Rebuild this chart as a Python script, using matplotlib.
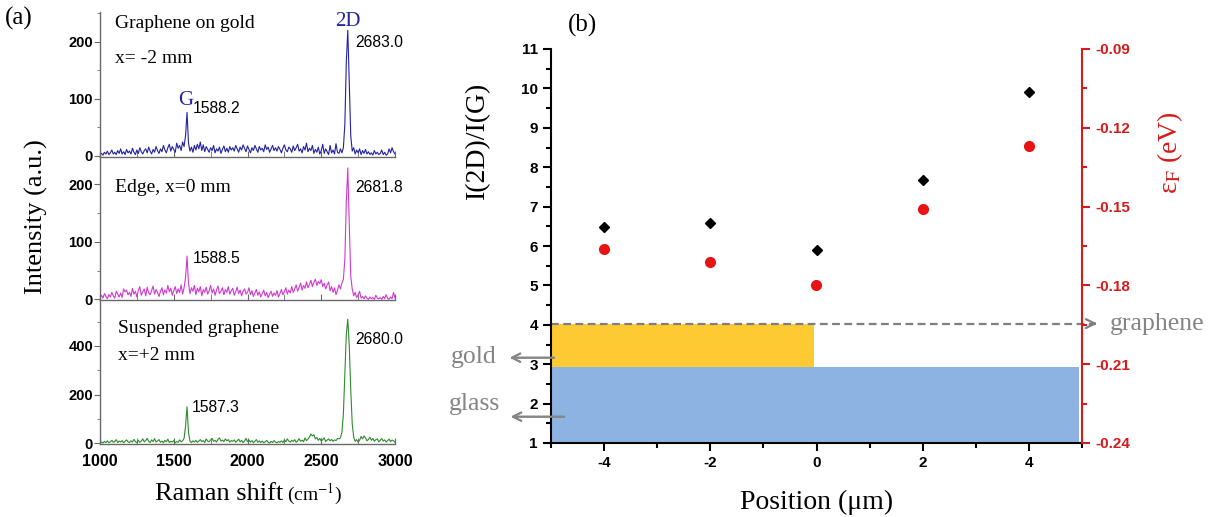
import matplotlib
matplotlib.use('Agg')
import matplotlib.pyplot as plt
import matplotlib.ticker as mticker
from matplotlib.patches import Rectangle
import numpy as np

plt.rcParams['font.family'] = ['Liberation Sans', 'DejaVu Sans']
plt.rcParams['axes.unicode_minus'] = False
plt.rcParams['mathtext.fontset'] = 'stix'

W, H = 1231, 517
SERIF = ['Liberation Serif', 'DejaVu Serif']

# ---- panel (a): Raman spectra, 1000..3000 cm-1 every 10 cm-1 ----
raman_start, raman_stop, raman_step = 1000, 3000, 10

gold_spec = [
    2, 4, 1, 6, 3, 8, 2, 5, 10, 3,
    6, 2, 9, 4, 12, 3, 7, 2, 11, 5,
    8, 3, 13, 6, 2, 10, 4, 14, 7, 3,
    9, 12, 5, 15, 8, 3, 11, 6, 16, 9,
    4, 12, 7, 18, 10, 5, 14, 20, 8, 16,
    11, 6, 22, 13, 18, 9, 24, 16, 35, 76,
    22, 8, 15, 6, 18, 10, 20, 12, 24, 9,
    19, 7, 16, 11, 6, 14, 9, 18, 5, 12,
    8, 15, 4, 11, 17, 7, 13, 6, 16, 10,
    14, 8, 18, 12, 6, 15, 10, 19, 13, 7,
    17, 11, 5, 14, 9, 18, 12, 6, 16, 10,
    13, 7, 19, 11, 15, 6, 12, 18, 9, 14,
    8, 16, 11, 5, 13, 19, 10, 7, 15, 12,
    6, 17, 9, 14, 20, 8, 12, 5, 16, 10,
    22, 7, 13, 9, 18, 4, 11, 6, 15, 3,
    9, 20, 4, 12, 7, 2, 18, 5, 10, 3,
    21, 6, 4, 12, 5, 14, 55, 165, 220, 125,
    35, 8, 14, 3, 10, 5, 12, 2, 9, 4,
    11, 3, 7, 2, 5, 1, 9, 3, 6, 2,
    4, 10, 2, 6, 1, 3, 12, 5, 14, 7,
    3,
]

edge_spec = [
    3, 7, 2, 10, 5, 1, 8, 4, 12, 6,
    2, 14, 9, 4, 11, 3, 18, 13, 16, 8,
    12, 5, 19, 9, 14, 4, 16, 22, 7, 13,
    18, 6, 21, 11, 8, 15, 23, 9, 17, 12,
    5, 14, 20, 8, 16, 11, 24, 13, 19, 7,
    15, 22, 10, 18, 12, 25, 9, 20, 38, 75,
    28, 10, 20, 14, 24, 8, 19, 13, 22, 6,
    17, 12, 21, 9, 15, 24, 11, 18, 7, 16,
    23, 10, 14, 20, 8, 17, 12, 22, 9, 15,
    19, 7, 13, 21, 10, 16, 6, 14, 18, 9,
    12, 20, 8, 15, 5, 11, 17, 7, 13, 4,
    10, 16, 6, 12, 3, 9, 14, 5, 11, 7,
    15, 4, 10, 17, 8, 13, 20, 9, 16, 11,
    22, 12, 18, 25, 14, 21, 28, 16, 24, 19,
    30, 20, 26, 33, 22, 29, 35, 24, 31, 27,
    34, 22, 28, 18, 25, 30, 15, 22, 12, 20,
    8, 16, 25, 18, 28, 35, 70, 170, 228, 130,
    40, 18, 6, 12, 3, 8, 14, 2, 5, 1,
    6, 2, 0, 4, 1, 3, 0, 7, 2, 1,
    3, 0, 5, 1, 8, 2, 0, 4, 1, 12,
    2,
]

susp_spec = [
    2, 5, 1, 8, 3, 10, 2, 6, 12, 4,
    7, 15, 3, 9, 5, 11, 2, 8, 14, 6,
    3, 10, 5, 16, 7, 2, 12, 4, 9, 18,
    6, 11, 20, 8, 3, 14, 7, 19, 5, 10,
    15, 4, 9, 2, 12, 6, 17, 3, 8, 5,
    11, 2, 7, 4, 14, 6, 10, 20, 70, 150,
    45, 8, 3, 10, 5, 12, 4, 9, 15, 7,
    11, 3, 18, 9, 6, 14, 20, 8, 12, 5,
    16, 22, 9, 13, 7, 18, 10, 15, 5, 11,
    8, 14, 4, 10, 17, 6, 12, 3, 9, 20,
    7, 13, 5, 11, 2, 8, 15, 4, 10, 3,
    9, 2, 6, 12, 4, 1, 8, 3, 11, 5,
    2, 7, 4, 10, 3, 14, 6, 18, 9, 5,
    12, 7, 15, 4, 10, 19, 8, 13, 6, 22,
    11, 17, 25, 38, 30, 35, 18, 24, 12, 20,
    9, 15, 22, 7, 13, 18, 10, 16, 8, 14,
    11, 20, 18, 22, 45, 120, 290, 450, 510, 400,
    220, 80, 25, 8, 15, 5, 12, 28, 18, 30,
    22, 10, 16, 25, 12, 20, 8, 15, 18, 6,
    12, 20, 9, 14, 5, 11, 17, 7, 13, 10,
    4,
]

# ---- panel (b): ratio and Fermi level vs position ----
positions = [-4, -2, 0, 2, 4]
ratio_2d_g = [6.49, 6.59, 5.91, 7.67, 9.90]
fermi_level = [-0.166, -0.171, -0.180, -0.151, -0.127]
gold_layer = (-5, -0.05, 2.93, 4.03)     # x0, x1, y0, y1
glass_layer = (-5, 4.95, 1.0, 2.93)
graphene_level = 4.03


def fx(x):
    return x / W


def fy(y):
    return 1 - y / H


def bold_ticks(ax, size, color='black'):
    ax.tick_params(labelsize=size)
    for lab in ax.get_xticklabels() + ax.get_yticklabels():
        lab.set_fontweight('bold')
        lab.set_color(color)


fig = plt.figure(figsize=(W / 100, H / 100), dpi=100)
shift = np.arange(raman_start, raman_stop + 1, raman_step)

panel_a = [
    (fig.add_axes([fx(100), fy(157), 295 / W, 145 / H]), gold_spec, '#2222a6', (-2.3, 252), 100),
    (fig.add_axes([fx(100), fy(300), 295 / W, 143 / H]), edge_spec, '#d13ad1', (-1.2, 247), 100),
    (fig.add_axes([fx(100), fy(444), 295 / W, 144 / H]), susp_spec, '#2e8b2e', (-3, 589), 200),
]
for i, (ax, spec, col, ylim, step) in enumerate(panel_a):
    ax.plot(shift, spec, color=col, lw=0.8)
    ax.set_xlim(1000, 3000)
    ax.set_ylim(*ylim)
    ax.set_facecolor('none')
    for s in ('top', 'right'):
        ax.spines[s].set_visible(False)
    for s in ('left', 'bottom'):
        ax.spines[s].set_color('#6a6a6a')
        ax.spines[s].set_linewidth(1.0)
    ax.xaxis.set_major_locator(mticker.MultipleLocator(500))
    ax.xaxis.set_minor_locator(mticker.MultipleLocator(250))
    ax.yaxis.set_major_locator(mticker.MultipleLocator(step))
    ax.yaxis.set_minor_locator(mticker.MultipleLocator(step / 2))
    ax.set_yticks([0, step, 2 * step])
    ax.tick_params(axis='x', which='both', direction='in', length=4, color='#6a6a6a', pad=7)
    ax.tick_params(axis='y', which='major', direction='out', length=4, color='#6a6a6a', pad=1)
    ax.tick_params(axis='y', which='minor', direction='out', length=2.5, color='#6a6a6a')
    if i < 2:
        ax.tick_params(axis='x', labelbottom=False)
    bold_ticks(ax, 10.5)
    for lab in ax.get_xticklabels():
        lab.set_fontsize(11.5)

txt = dict(va='baseline', ha='left')
fig.text(fx(5), fy(25), '(a)', family=SERIF, size=18, **txt)
fig.text(fx(115), fy(28), 'Graphene on gold', family=SERIF, size=14, **txt)
fig.text(fx(115), fy(63), 'x= -2 mm', family=SERIF, size=14, **txt)
fig.text(fx(178), fy(105), 'G', family=SERIF, size=15, color='#2222a6', **txt)
fig.text(fx(193), fy(113), '1588.2', size=11.3, **txt)
fig.text(fx(335), fy(26), '2D', family=SERIF, size=15, color='#2222a6', **txt)
fig.text(fx(355), fy(47), '2683.0', size=11.3, **txt)
fig.text(fx(115), fy(192), 'Edge, x=0 mm', family=SERIF, size=14, **txt)
fig.text(fx(193), fy(263), '1588.5', size=11.3, **txt)
fig.text(fx(355), fy(192), '2681.8', size=11.3, **txt)
fig.text(fx(118), fy(333), 'Suspended graphene', family=SERIF, size=14, **txt)
fig.text(fx(118), fy(360), 'x=+2 mm', family=SERIF, size=14, **txt)
fig.text(fx(192), fy(412), '1587.3', size=11.3, **txt)
fig.text(fx(355), fy(344), '2680.0', size=11.3, **txt)
fig.text(fx(155), fy(500), 'Raman shift', family=SERIF, size=19, **txt)
fig.text(fx(287), fy(500), '(cm$^{-1}$)', family=SERIF, size=14, **txt)
fig.text(fx(36), fy(217), 'Intensity (a.u.)', family=SERIF, size=19,
         rotation=90, ha='center', va='center')

# ---- panel (b) ----
ax = fig.add_axes([fx(551), fy(443), 531 / W, 394 / H])
ax.add_patch(Rectangle((glass_layer[0], glass_layer[2]), glass_layer[1] - glass_layer[0],
                       glass_layer[3] - glass_layer[2], color='#8db3e2', lw=0, zorder=1))
ax.add_patch(Rectangle((gold_layer[0], gold_layer[2]), gold_layer[1] - gold_layer[0],
                       gold_layer[3] - gold_layer[2], color='#fdca33', lw=0, zorder=1))
ax.plot([-5, 5.25], [graphene_level, graphene_level], ls='--', dashes=(3.5, 2),
        color='#7f7f7f', lw=1.6, clip_on=False, zorder=2)
ax.annotate('', xy=(5.34, graphene_level), xytext=(5.15, graphene_level),
            arrowprops=dict(arrowstyle='->', color='#7f7f7f', lw=1.6, mutation_scale=16),
            annotation_clip=False)
ax.plot(positions, ratio_2d_g, 'D', color='black', ms=5.5, zorder=3)
ax.set_xlim(-5, 5)
ax.set_ylim(1, 11)
ax.set_xticks(positions)
ax.xaxis.set_minor_locator(mticker.MultipleLocator(1))
ax.set_yticks(range(1, 12))
ax.yaxis.set_minor_locator(mticker.MultipleLocator(0.5))
ax.spines['top'].set_visible(False)
ax.spines['right'].set_visible(False)
for s in ('left', 'bottom'):
    ax.spines[s].set_linewidth(1.5)
ax.tick_params(which='major', direction='out', length=6, width=1.5)
ax.tick_params(which='minor', direction='out', length=3.5, width=1.5)
bold_ticks(ax, 11)
ax.set_xlabel('Position (\u03bcm)', family=SERIF, size=20, labelpad=14)

red = '#d41c1c'
axr = ax.twinx()
axr.plot(positions, fermi_level, 'o', color='#e81414', ms=7, zorder=3)
axr.set_ylim(-0.24, -0.09)
axr.yaxis.set_major_locator(mticker.MultipleLocator(0.03))
axr.yaxis.set_minor_locator(mticker.MultipleLocator(0.015))
axr.yaxis.set_major_formatter(mticker.FormatStrFormatter('%.2f'))
for s in ('top', 'left', 'bottom'):
    axr.spines[s].set_visible(False)
axr.spines['right'].set_color(red)
axr.spines['right'].set_linewidth(1.5)
axr.tick_params(which='major', direction='out', length=6, width=1.5, color=red)
axr.tick_params(which='minor', direction='out', length=3.5, width=1.5, color=red)
bold_ticks(axr, 11, red)

fig.text(fx(568), fy(32), '(b)', family=SERIF, size=18, **txt)
fig.text(fx(478), fy(140), 'I(2D)/I(G)', family=SERIF, size=20,
         rotation=90, ha='center', va='center')
fig.text(fx(1170), fy(153), '\u03b5$_\\mathrm{F}$ (eV)', family=SERIF, size=20,
         color=red, rotation=90, ha='center', va='center')

gray = '#858585'
fig.text(fx(497), fy(363), 'gold', family=SERIF, size=18.5, color=gray, ha='right', va='baseline')
fig.text(fx(500), fy(410), 'glass', family=SERIF, size=18.5, color=gray, ha='right', va='baseline')
fig.text(fx(1110), fy(330), 'graphene', family=SERIF, size=18.5, color=gray, **txt)
arrow = dict(arrowstyle='->', color=gray, lw=1.4, mutation_scale=15)
fig.add_artist(plt.annotate('', xy=(fx(507), fy(357.7)), xytext=(fx(557), fy(357.7)),
                            xycoords='figure fraction', arrowprops=arrow))
fig.add_artist(plt.annotate('', xy=(fx(508), fy(416.7)), xytext=(fx(567), fy(416.7)),
                            xycoords='figure fraction', arrowprops=arrow))

fig.savefig('out.png', dpi=100)
